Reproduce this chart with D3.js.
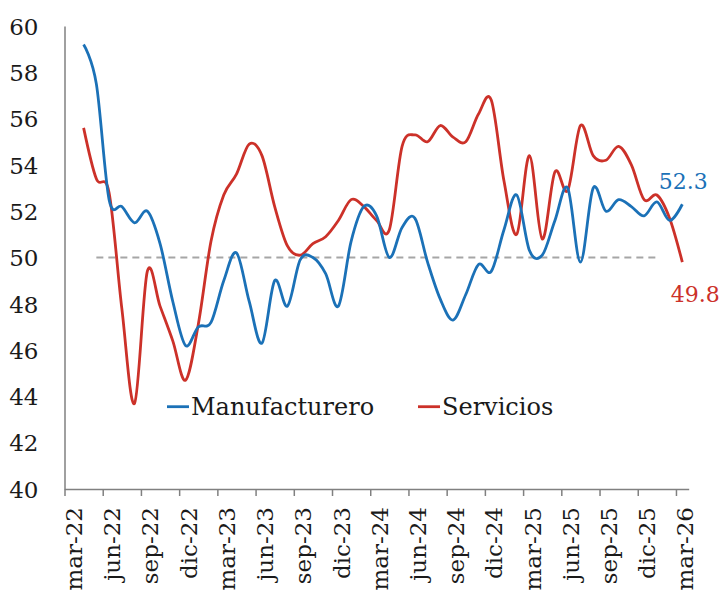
<!DOCTYPE html>
<html><head><meta charset="utf-8">
<script src="https://cdn.jsdelivr.net/npm/d3@7"></script>
<style>
body{margin:0;background:#fff;}
svg{display:block;}
text{font-family:"DejaVu Serif",serif;}
</style>
</head><body>
<svg id="c" width="721" height="592"></svg>
<script>
const months = [
  "mar-22","abr-22","may-22","jun-22","jul-22","ago-22","sep-22","oct-22","nov-22","dic-22",
  "ene-23","feb-23","mar-23","abr-23","may-23","jun-23","jul-23","ago-23","sep-23","oct-23","nov-23","dic-23",
  "ene-24","feb-24","mar-24","abr-24","may-24","jun-24","jul-24","ago-24","sep-24","oct-24","nov-24","dic-24",
  "ene-25","feb-25","mar-25","abr-25","may-25","jun-25","jul-25","ago-25","sep-25","oct-25","nov-25","dic-25",
  "ene-26","feb-26","mar-26"
];
const seriesStart = "abr-22";
const tickLabels = ["mar-22","jun-22","sep-22","dic-22","mar-23","jun-23","sep-23","dic-23",
  "mar-24","jun-24","sep-24","dic-24","mar-25","jun-25","sep-25","dic-25","mar-26"];
const manufacturero = [
  59.2,57.5,52.5,52.2,51.5,52.0,50.6,48.1,46.2,
  47.0,47.2,49.0,50.2,48.1,46.3,49.0,47.9,49.9,50.0,49.3,47.9,
  50.7,52.2,51.8,50.0,51.3,51.7,49.8,48.2,47.3,48.4,49.7,49.4,
  51.2,52.7,50.3,50.1,51.6,53.0,49.8,53.0,52.0,52.5,52.2,51.8,
  52.4,51.6,52.3
];
const servicios = [
  55.6,53.4,52.8,47.8,43.7,49.4,47.9,46.4,44.7,
  47.1,50.7,52.7,53.6,54.9,54.4,52.2,50.5,50.1,50.6,50.9,51.6,
  52.5,52.2,51.6,51.2,54.8,55.3,55.0,55.7,55.2,55.0,56.2,56.8,
  53.3,51.0,54.4,50.8,53.7,52.9,55.7,54.4,54.2,54.8,54.0,52.5,
  52.7,51.7,49.8
];
const yTicks = [40,42,44,46,48,50,52,54,56,58,60];
const threshold = 50;
const thresholdFrom = "may-22", thresholdTo = "ene-26";
const seriesNames = ["Manufacturero","Servicios"];
const colors = ["#1b71b7","#cc3129"];

const svg = d3.select("#c");
const x = d3.scaleLinear().domain([0, months.length]).range([64.5, 688.7]);
const y = d3.scaleLinear().domain([40, 60]).range([489, 26]);
const start = months.indexOf(seriesStart);
const px = i => x(start + i + 0.5);

// axes
const xAxis = d3.axisBottom(x)
  .tickValues(tickLabels.map(l => months.indexOf(l)))
  .tickFormat(i => months[i]).tickSize(7).tickSizeOuter(0);
const gx = svg.append("g").attr("transform", `translate(0,${y(40)})`).call(xAxis);
gx.attr("font-size", null).attr("font-family", null);
gx.select(".domain").attr("stroke", "#808080").attr("stroke-width", 1.5);
gx.selectAll(".tick line").attr("stroke", "#808080").attr("stroke-width", 1.5);
gx.selectAll(".tick text")
  .attr("transform", "rotate(-90)")
  .attr("x", -18).attr("y", 17).attr("dy", 0)
  .style("text-anchor", "end")
  .style("font-size", "23px").attr("fill", "#1a1a1a");

const yAxis = d3.axisLeft(y).tickValues(yTicks).tickSize(0).tickPadding(26).tickFormat(d3.format("d"));
const gy = svg.append("g").attr("transform", `translate(${x(0)},0)`).call(yAxis);
gy.attr("font-size", null).attr("font-family", null);
gy.select(".domain").attr("stroke", "#808080").attr("stroke-width", 1.5);
gy.selectAll(".tick text").style("font-size", "23px").attr("fill", "#1a1a1a").attr("dy", "0.36em");

// threshold dashed line
svg.append("line")
  .attr("x1", x(months.indexOf(thresholdFrom) + 0.5))
  .attr("x2", x(months.indexOf(thresholdTo) + 0.5))
  .attr("y1", y(threshold)).attr("y2", y(threshold))
  .attr("stroke", "#a6a6a6").attr("stroke-width", 2).attr("stroke-dasharray", "7,5");

const line = d3.line().x((d, i) => px(i)).y(d => y(d)).curve(d3.curveCardinal.tension(0));
[servicios, manufacturero].forEach((s, k) => {
  svg.append("path").datum(s).attr("d", line)
    .attr("fill", "none").attr("stroke", k === 0 ? colors[1] : colors[0])
    .attr("stroke-width", 2.8).attr("stroke-linejoin", "round");
});

// end labels
const nM = manufacturero.length - 1, nS = servicios.length - 1;
svg.append("text").attr("x", px(nM) - 23.5).attr("y", y(manufacturero[nM]) - 15)
  .attr("fill", colors[0]).style("font-size", "22px").text(manufacturero[nM].toFixed(1));
svg.append("text").attr("x", px(nS) - 11.5).attr("y", y(servicios[nS]) + 40)
  .attr("fill", colors[1]).style("font-size", "22px").text(servicios[nS].toFixed(1));

// legend
const legendX = [167, 418], legendY = 406.7;
seriesNames.forEach((n, k) => {
  svg.append("line").attr("x1", legendX[k]).attr("x2", legendX[k] + 22)
    .attr("y1", legendY).attr("y2", legendY)
    .attr("stroke", colors[k]).attr("stroke-width", 2.8);
  svg.append("text").attr("x", legendX[k] + 24).attr("y", legendY + 8.5)
    .attr("fill", "#1a1a1a").style("font-size", "24px").text(n);
});
</script>
</body></html>
